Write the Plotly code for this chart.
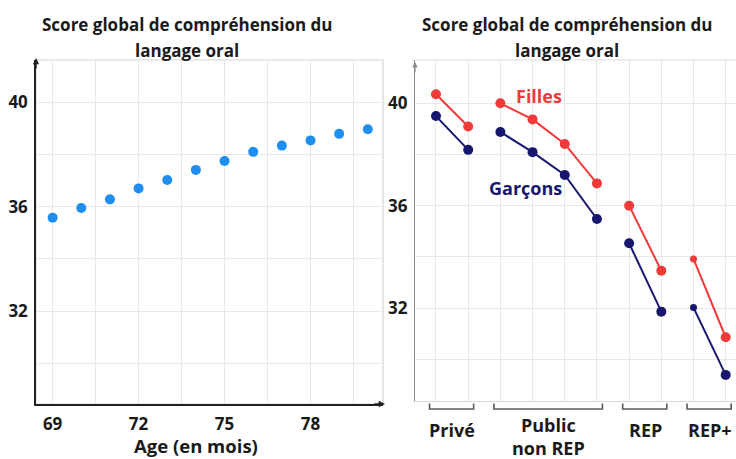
import plotly.graph_objects as go

# ---------------- data ----------------
AGE_MONTHS = [69, 70, 71, 72, 73, 74, 75, 76, 77, 78, 79, 80]
SCORE_BY_AGE = [35.58, 35.95, 36.28, 36.70, 37.02, 37.41, 37.75, 38.10, 38.34, 38.54, 38.79, 38.97]
AGE_TICKS = [69, 72, 75, 78]
SCORE_TICKS = [32, 36, 40]

SECTOR_LABELS = ["Privé", "Public<br>non REP", "REP", "REP+"]
SECTOR_SIZES = [2, 4, 2, 2]
FILLES = [40.35, 39.09, 40.00, 39.37, 38.41, 36.87, 36.00, 33.46, 33.92, 30.86]
GARCONS = [39.50, 38.18, 38.88, 38.09, 37.20, 35.48, 34.53, 31.86, 32.02, 29.39]

TITLE_LINES = ["Score global de compréhension du", "langage oral"]
FONT = "Open Sans"
W, H = 736, 459


def px(x):
    return x / W


def py(y):
    return 1 - y / H


# positions 1..N for the sector points, grouped
positions = list(range(1, sum(SECTOR_SIZES) + 1))
groups = []
i = 0
for n in SECTOR_SIZES:
    groups.append(positions[i:i + n])
    i += n


def segmented(vals):
    xs, ys = [], []
    for g in groups:
        for p in g:
            xs.append(p)
            ys.append(vals[p - 1])
        xs.append(None)
        ys.append(None)
    return xs, ys


def sizes():
    out = []
    for gi, g in enumerate(groups):
        for k, p in enumerate(g):
            out.append(7 if (gi == len(groups) - 1 and k == 0) else 10)
        out.append(0)
    return out


RED = "#f03a3a"
NAVY = "#17176e"
BLUE = "#1e8ff0"
GRID = "#e8e8e8"
TXT = "#1a1a1a"

fig = go.Figure()
fig.add_trace(go.Scatter(x=AGE_MONTHS, y=SCORE_BY_AGE, mode="markers",
                         marker=dict(color=BLUE, size=10, opacity=1, line=dict(width=0)),
                         xaxis="x", yaxis="y", showlegend=False, hoverinfo="skip"))
fx, fy = segmented(FILLES)
gx, gy = segmented(GARCONS)
fig.add_trace(go.Scatter(x=fx, y=fy, mode="lines+markers", connectgaps=False,
                         line=dict(color=RED, width=2),
                         marker=dict(color=RED, size=sizes(), opacity=1, line=dict(width=0)),
                         xaxis="x2", yaxis="y2", showlegend=False, hoverinfo="skip"))
fig.add_trace(go.Scatter(x=gx, y=gy, mode="lines+markers", connectgaps=False,
                         line=dict(color=NAVY, width=2),
                         marker=dict(color=NAVY, size=sizes(), opacity=1, line=dict(width=0)),
                         xaxis="x2", yaxis="y2", showlegend=False, hoverinfo="skip"))

tickfont = dict(family=FONT, size=17, color=TXT, weight="bold")
fig.update_layout(
    width=W, height=H, margin=dict(l=0, r=0, t=0, b=0),
    paper_bgcolor="white", plot_bgcolor="white",
    font=dict(family=FONT), hovermode=False,
    xaxis=dict(domain=[px(36), px(383)], range=[68.42, 80.53],
               tickvals=AGE_TICKS, ticktext=[str(v) for v in AGE_TICKS],
               showgrid=True, gridcolor=GRID, gridwidth=1,
               minor=dict(tickvals=[v + 1.5 for v in AGE_TICKS], showgrid=True, gridcolor=GRID),
               showline=True, linecolor="#222", linewidth=1.5,
               ticks="", tickfont=tickfont, ticklabelstandoff=4, zeroline=False),
    yaxis=dict(domain=[py(404), py(60)], range=[28.44, 41.62],
               tickvals=SCORE_TICKS, ticktext=[str(v) for v in SCORE_TICKS],
               showgrid=True, gridcolor=GRID,
               minor=dict(tickvals=[v - 2 for v in SCORE_TICKS], showgrid=True, gridcolor=GRID),
               showline=True, linecolor="#222", linewidth=1.5,
               ticks="", tickfont=tickfont, ticklabelstandoff=3, zeroline=False),
    xaxis2=dict(domain=[px(415), 1.0], range=[0.348, 10.32], anchor="y2",
                tickvals=positions, showticklabels=False,
                showgrid=True, gridcolor=GRID, showline=True, linecolor="#d6d6d6",
                linewidth=1, ticks="", zeroline=False),
    yaxis2=dict(domain=[py(401), py(60)], range=[28.37, 41.69], anchor="x2",
                tickvals=SCORE_TICKS, ticktext=[str(v) for v in SCORE_TICKS],
                showgrid=True, gridcolor=GRID,
                minor=dict(tickvals=[v - 2 for v in SCORE_TICKS], showgrid=True, gridcolor=GRID),
                showline=True, linecolor="#8a8a8a", linewidth=1.3,
                ticks="", tickfont=tickfont, ticklabelstandoff=3, zeroline=False),
)

shapes = [
    dict(type="rect", xref="x domain", yref="y domain", x0=0, x1=1, y0=0, y1=1,
         line=dict(color="#d4d4d4", width=1.2), layer="below"),
    dict(type="line", xref="x2 domain", yref="y2 domain", x0=0, x1=1, y0=1, y1=1,
         line=dict(color="#dcdcdc", width=1.2), layer="below"),
]
# sector brackets under the right panel
for g in groups:
    x0, x1 = g[0] - 0.2, g[-1] + 0.17
    yt, yl = py(403.5), py(409)
    shapes.append(dict(type="path", xref="x2", yref="paper",
                       path=f"M {x0},{yt} L {x0},{yl} L {x1},{yl} L {x1},{yt}",
                       line=dict(color="#5a5a5a", width=1.6)))
fig.update_layout(shapes=shapes)

ann = []
# titles (two lines each)
for cx in (187, 567):
    for line, cy in zip(TITLE_LINES, (25, 50)):
        ann.append(dict(text="<b>" + line + "</b>", x=px(cx), y=py(cy), xref="paper", yref="paper",
                        showarrow=False, font=dict(size=17, color=TXT, family=FONT),
                        xanchor="center", yanchor="middle"))
# x-axis title (left)
ann.append(dict(text="<b>Age (en mois)</b>", x=px(196), y=py(445.5), xref="paper", yref="paper",
                showarrow=False, font=dict(size=18.5, color=TXT, family=FONT),
                xanchor="center", yanchor="middle"))
# sector labels
for g, lab in zip(groups, SECTOR_LABELS):
    top = 411 if "<br>" in lab else 416
    ann.append(dict(text="<b>" + lab + "</b>", x=sum(g) / len(g), y=py(top), xref="x2", yref="paper",
                    showarrow=False, font=dict(size=18, color=TXT, family=FONT),
                    xanchor="center", yanchor="top"))
# series labels
ann.append(dict(text="<b>Filles</b>", x=px(539), y=py(96), xref="paper", yref="paper",
                xanchor="center", yanchor="middle",
                showarrow=False, font=dict(size=18, color=RED, family=FONT)))
ann.append(dict(text="<b>Garçons</b>", x=px(525), y=py(188), xref="paper", yref="paper",
                xanchor="center", yanchor="middle",
                showarrow=False, font=dict(size=18, color=NAVY, family=FONT)))
# axis arrows
arrow = dict(text="", showarrow=True, arrowhead=2, arrowsize=0.9, arrowwidth=1.4,
             xref="paper", yref="paper", axref="pixel", ayref="pixel", standoff=0)
ann.append(dict(arrow, x=px(36), y=py(58), ax=0, ay=12, arrowcolor="#222"))
ann.append(dict(arrow, x=px(385), y=py(404), ax=-12, ay=0, arrowcolor="#222"))
ann.append(dict(arrow, x=px(415), y=py(62), ax=0, ay=12, arrowcolor="#8a8a8a", arrowwidth=1.2))
fig.update_layout(annotations=ann)

fig.write_html("out.html", config={"displayModeBar": False},
               post_script="document.body.style.margin='0';document.body.style.overflow='hidden';")
